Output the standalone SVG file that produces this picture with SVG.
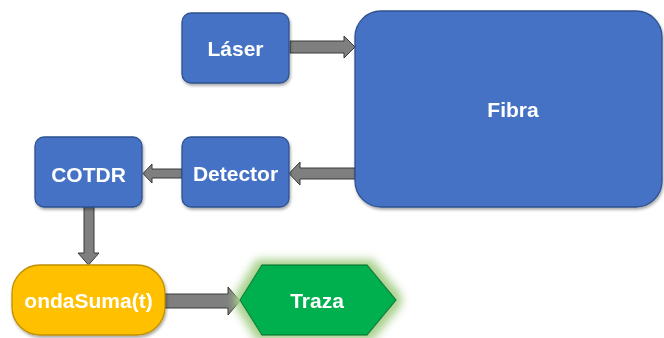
<svg xmlns="http://www.w3.org/2000/svg" width="664" height="338" viewBox="0 0 664 338">
<style>
.blue{fill:#4472C4;stroke:#2F528F;stroke-width:1.3}
.lbl{font-family:"Liberation Sans",Arial,sans-serif;font-weight:bold;font-size:21px;fill:#fff;text-anchor:middle}
.arr{fill:#7F7F7F;stroke:#3A3A3A;stroke-width:1}
</style>
<defs>
<filter id="sh" x="-10%" y="-10%" width="125%" height="130%">
<feDropShadow dx="1" dy="2" stdDeviation="1.5" flood-color="#000" flood-opacity="0.35"/>
</filter>
<filter id="glow" x="-20%" y="-40%" width="140%" height="180%">
<feMorphology in="SourceAlpha" operator="dilate" radius="5" result="d"/>
<feGaussianBlur in="d" stdDeviation="4" result="b"/>
<feFlood flood-color="#A9D18E" flood-opacity="1"/>
<feComposite in2="b" operator="in" result="g"/>
<feMerge><feMergeNode in="g"/><feMergeNode in="SourceGraphic"/></feMerge>
</filter>
</defs>
<g id="connectors">
<polygon class="arr" points="290,41 344,41 344,36 355,47 344,58 344,53 290,53"/>
<polygon class="arr" points="355,168 300,168 300,162 289,173.5 300,185 300,179 355,179"/>
<polygon class="arr" points="182,169 152,169 152,164 143,173.5 152,183 152,178 182,178"/>
<polygon class="arr" points="84,207 94,207 94,253 99,253 88.5,265 78,253 84,253"/>
<polygon class="arr" points="165,294 228,294 228,287 240,301 228,315 228,308 165,308"/>
</g>
<g id="laser" filter="url(#sh)">
<rect class="blue" x="182" y="13" width="107" height="70" rx="9"/>
<text class="lbl" x="235.5" y="56">Láser</text>
</g>
<g id="fibra" filter="url(#sh)">
<rect class="blue" x="355" y="11" width="307" height="196" rx="26"/>
<text class="lbl" x="513" y="117">Fibra</text>
</g>
<g id="detector" filter="url(#sh)">
<rect class="blue" x="182" y="137" width="107" height="70" rx="9"/>
<text class="lbl" x="235.5" y="181">Detector</text>
</g>
<g id="cotdr" filter="url(#sh)">
<rect class="blue" x="35" y="137" width="107" height="70" rx="9"/>
<text class="lbl" x="88.5" y="182">COTDR</text>
</g>
<g id="ondaSuma" filter="url(#sh)">
<rect x="12" y="265" width="153" height="70" rx="28" fill="#FFC000" stroke="#BF9000" stroke-width="1.3"/>
<text class="lbl" x="88.5" y="308">ondaSuma(t)</text>
</g>
<g id="traza" filter="url(#glow)">
<polygon points="240,300 262,265 367,265 396,300 367,335 262,335" fill="#00B050" stroke="#00843C" stroke-width="1.3"/>
<text class="lbl" x="317" y="308">Traza</text>
</g>
</svg>
